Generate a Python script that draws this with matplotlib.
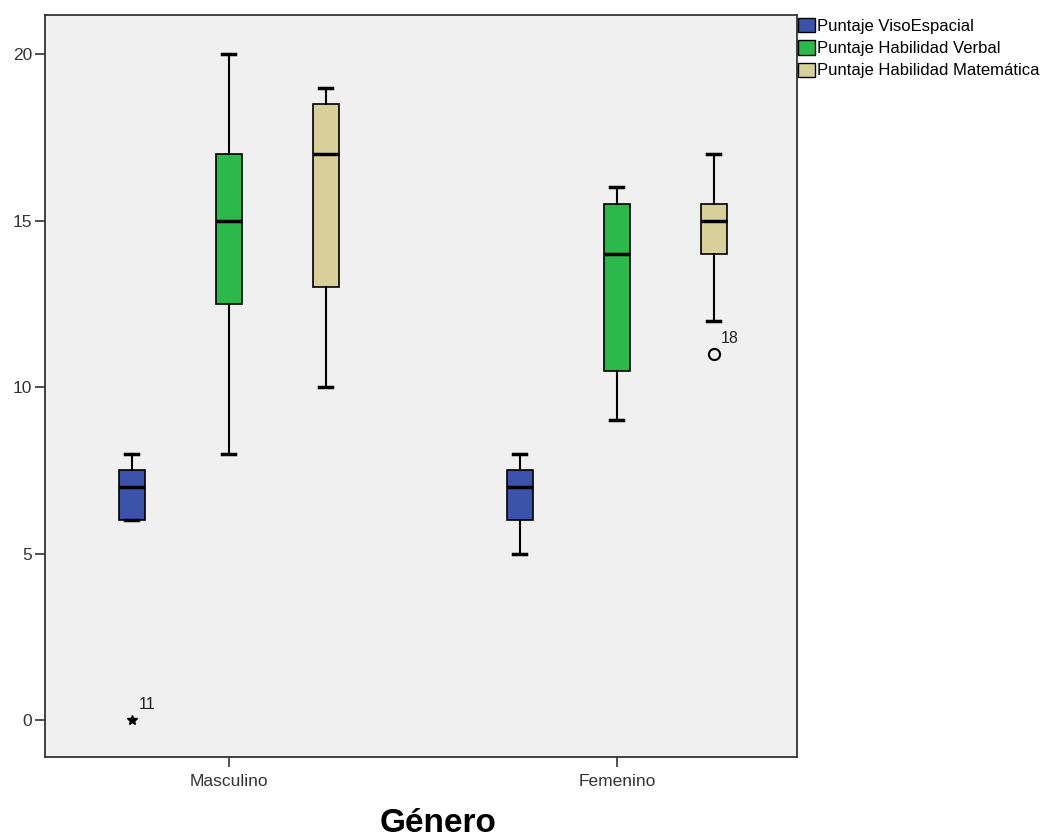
import matplotlib.pyplot as plt
from matplotlib.patches import Patch

groups = ["Masculino", "Femenino"]
series = ["Puntaje VisoEspacial", "Puntaje Habilidad Verbal", "Puntaje Habilidad Matemática"]
colors = ["#3b52aa", "#2cb84a", "#d7d09b"]

# (whislo, q1, med, q3, whishi) per group, per series
stats_vals = {
    "Masculino": [(6, 6, 7, 7.5, 8), (8, 12.5, 15, 17, 20), (10, 13, 17, 18.5, 19)],
    "Femenino": [(5, 6, 7, 7.5, 8), (9, 10.5, 14, 15.5, 16), (12, 14, 15, 15.5, 17)],
}
# outliers: (group, series index, value, label, marker)
outliers = [("Masculino", 0, 0, "11", "*"), ("Femenino", 2, 11, "18", "o")]

plt.rcParams["font.family"] = ["Liberation Sans", "DejaVu Sans"]

fig = plt.figure(figsize=(10.56, 8.38), dpi=100)
ax = fig.add_axes([0.0426, 0.0967, 0.712, 0.885])
ax.set_facecolor("#f0f0f0")

offsets = [-0.25, 0, 0.25]
width = 0.067

for gi, g in enumerate(groups):
    for si, (lo, q1, med, q3, hi) in enumerate(stats_vals[g]):
        st = dict(whislo=lo, q1=q1, med=med, q3=q3, whishi=hi, fliers=[])
        ax.bxp([st], positions=[gi + offsets[si]], widths=width, patch_artist=True,
               showfliers=False, manage_ticks=False,
               boxprops=dict(facecolor=colors[si], edgecolor="black", linewidth=1.2),
               medianprops=dict(color="black", linewidth=2.5),
               whiskerprops=dict(color="black", linewidth=1.5),
               capprops=dict(color="black", linewidth=2.5),
               capwidths=width / 2)

for g, si, val, lab, mk in outliers:
    x = groups.index(g) + offsets[si]
    if mk == "*":
        ax.plot(x, val, marker="*", color="black", markersize=7, linestyle="none")
    else:
        ax.plot(x, val, marker="o", markerfacecolor="none", markeredgecolor="black",
                markersize=8, markeredgewidth=1.5, linestyle="none")
    ax.annotate(lab, (x, val), xytext=(5, 8), textcoords="offset points",
                fontsize=11.5, color="#222222")

ax.set_xlim(-0.474, 1.464)
ax.set_ylim(-1.11, 21.17)
ax.set_xticks(range(len(groups)))
ax.set_xticklabels(groups, fontsize=12.5)
ax.set_yticks([0, 5, 10, 15, 20])
ax.tick_params(axis="y", labelsize=12.5, length=7, width=1.2, colors="#333333", pad=2)
ax.tick_params(axis="x", length=7, width=1.2, colors="#333333", pad=5)
for sp in ax.spines.values():
    sp.set_color("#333333")
    sp.set_linewidth(1.3)

fig.text(0.415, 0.007, "Género", fontsize=24, fontweight="bold",
         ha="center", va="baseline")

handles = [Patch(facecolor=c, edgecolor="black", label=s) for c, s in zip(colors, series)]
fig.legend(handles=handles, loc="upper left", bbox_to_anchor=(0.7557, 0.9785),
           frameon=False, fontsize=12, handlelength=1.0, handleheight=0.95,
           handletextpad=0.12, labelspacing=0.38, borderaxespad=0, borderpad=0)

fig.savefig("out.png", dpi=100)
